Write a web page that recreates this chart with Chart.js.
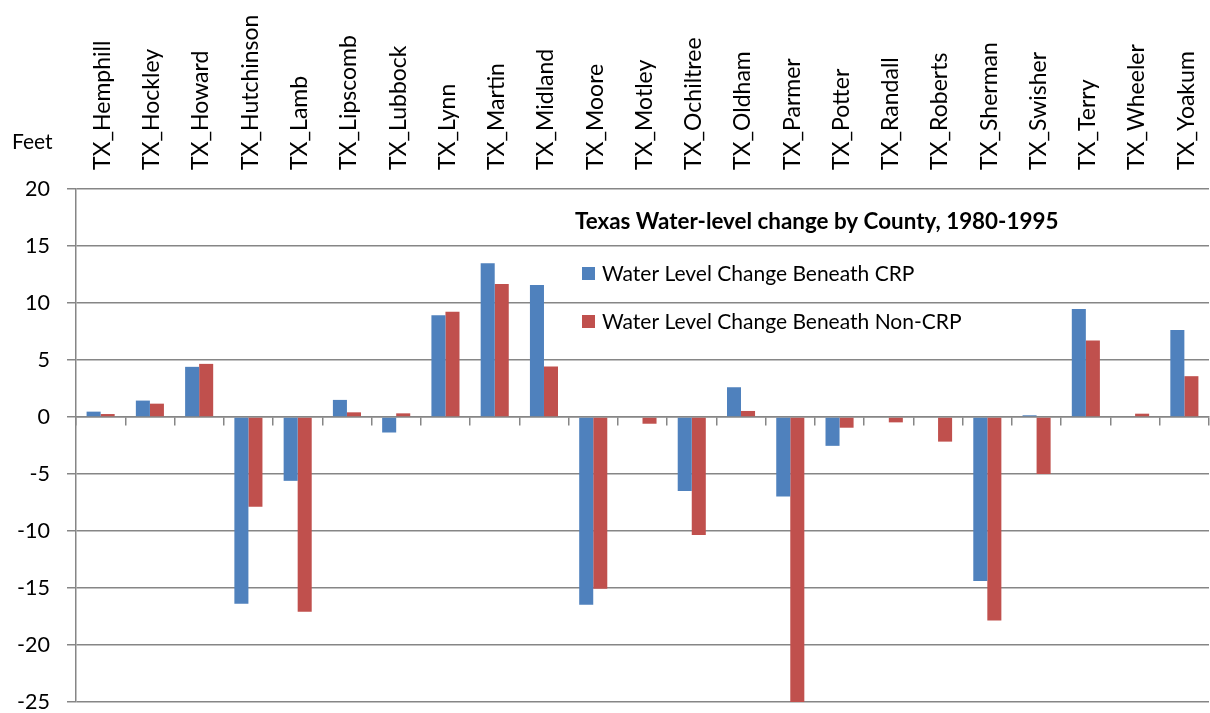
<!DOCTYPE html>
<html><head><meta charset="utf-8">
<script src="https://cdn.jsdelivr.net/npm/chart.js@4"></script>
<style>html,body{margin:0;padding:0;background:#fff;overflow:hidden}</style>
</head><body>
<canvas id="c" width="1210" height="713"></canvas>
<script>
const counties = ['TX_Hemphill','TX_Hockley','TX_Howard','TX_Hutchinson','TX_Lamb','TX_Lipscomb','TX_Lubbock','TX_Lynn','TX_Martin','TX_Midland','TX_Moore','TX_Motley','TX_Ochiltree','TX_Oldham','TX_Parmer','TX_Potter','TX_Randall','TX_Roberts','TX_Sherman','TX_Swisher','TX_Terry','TX_Wheeler','TX_Yoakum'];
const crpChange = [0.47, 1.44, 4.40, -16.39, -5.6, 1.50, -1.36, 8.92, 13.49, 11.58, -16.47, 0, -6.5, 2.61, -6.97, -2.53, 0, 0, -14.39, 0.15, 9.47, 0, 7.63];
const nonCrpChange = [0.26, 1.17, 4.66, -7.88, -17.09, 0.41, 0.32, 9.24, 11.67, 4.43, -15.07, -0.59, -10.35, 0.53, -25.15, -0.94, -0.47, -2.16, -17.85, -5.0, 6.72, 0.29, 3.58];
const seriesNames = ['Water Level Change Beneath CRP', 'Water Level Change Beneath Non-CRP'];
const chartTitle = 'Texas Water-level change by County, 1980-1995';
const yUnit = 'Feet';
const yMin = -25, yMax = 20, yStep = 5;

const GRID = '#868686';
const overlay = {
  id: 'overlay',
  afterDraw(chart) {
    const {ctx, chartArea: a, data} = chart;
    ctx.save();
    ctx.textBaseline = 'middle';
    ctx.textAlign = 'left';
    ctx.fillStyle = '#000';
    ctx.font = 'bold 22.4px Lato';
    ctx.fillText(chartTitle, a.left + 499, a.top + 33);
    data.datasets.forEach((ds, i) => {
      const y = a.top + 85 + i * 48;
      ctx.fillStyle = ds.backgroundColor;
      ctx.fillRect(a.left + 506, y - 7, 13, 13);
      ctx.fillStyle = '#000';
      ctx.font = '21px Lato';
      ctx.fillText(ds.label, a.left + 526, y);
    });
    ctx.font = '21px Lato';
    ctx.fillText(yUnit, 12, a.top - 47);
    ctx.restore();
  }
};

document.fonts.load('21px Lato').then(() => document.fonts.load('bold 22px Lato')).then(draw, draw);
function draw() {
new Chart(document.getElementById('c'), {
  type: 'bar',
  data: {
    labels: counties,
    datasets: [
      {label: seriesNames[0], data: crpChange, backgroundColor: '#4F81BD', borderWidth: 0, xAxisID: 'x'},
      {label: seriesNames[1], data: nonCrpChange, backgroundColor: '#C0504D', borderWidth: 0, xAxisID: 'x'}
    ]
  },
  options: {
    responsive: false,
    devicePixelRatio: 1,
    animation: false,
    layout: {padding: {top: 0, left: 0, right: 1, bottom: 11}},
    datasets: {bar: {categoryPercentage: 0.57, barPercentage: 1.0}},
    plugins: {legend: {display: false}, tooltip: {enabled: false}, title: {display: false}},
    scales: {
      x: {
        position: 'top',
        grid: {display: false, drawTicks: false},
        border: {display: false},
        ticks: {minRotation: 90, maxRotation: 90, autoSkip: false, padding: 19, labelOffset: 29.5, color: '#000', font: {family: 'Lato', size: 23}},
        afterFit(s) { s.height = 189; s.paddingLeft = 0; s.paddingRight = 0; }
      },
      x2: {
        type: 'category',
        labels: counties,
        position: {y: 0},
        offset: true,
        grid: {display: true, drawOnChartArea: false, drawTicks: true, tickLength: 8, offset: true, color: GRID, lineWidth: 1.5},
        border: {display: true, color: GRID, width: 1.5},
        ticks: {display: false},
        afterFit(s) { s.paddingLeft = 0; s.paddingRight = 0; }
      },
      y: {
        min: yMin, max: yMax,
        ticks: {stepSize: yStep, padding: 17, color: '#000', font: {family: 'Lato', size: 21.5}},
        grid: {color: GRID, lineWidth: 1.5, tickLength: 9, drawTicks: true},
        border: {display: true, color: GRID, width: 1.5},
        afterFit(s) { s.width = 76; s.paddingTop = 0; s.paddingBottom = 0; }
      }
    }
  },
  plugins: [overlay]
});
}
</script>
</body></html>
